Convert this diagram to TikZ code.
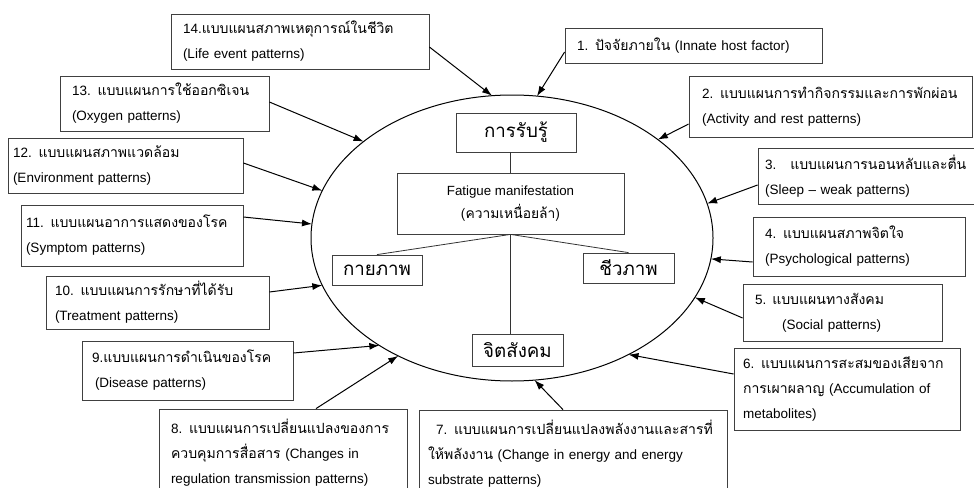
\documentclass[tikz,border=0pt]{standalone}
\usepackage{fontspec}
\setmainfont{Liberation Sans}
\newfontfamily\thaifont[Script=Thai,Scale=1.04]{Loma}
\usetikzlibrary{shapes.geometric,arrows.meta}

\begin{document}
\begin{tikzpicture}[x=1pt,y=-1pt]
        \tikzstyle{every node}=[font=\fontsize{13.5}{25}\selectfont]
        \tikzstyle{outbox}=[draw=black!75, line width=0.8pt, align=left, inner xsep=12pt, inner ysep=0pt]
        \tikzstyle{inbox}=[draw=black!75, line width=0.8pt, align=center, inner sep=0pt, font=\thaifont\fontsize{18}{21}\selectfont]
        \tikzstyle{arr}=[-{Latex[length=10pt,width=7pt]}, line width=1pt]
        \clip (0,0) rectangle (974,487);

        \node[draw, ellipse, line width=1pt, minimum width=402pt, minimum height=286pt, inner sep=0pt, outer sep=0pt] (ell) at (512,238) {};

        \node[inbox, minimum width=120pt, minimum height=39pt] (per) at (516,132.5) {การรับรู้};
        \node[inbox, minimum width=227pt, minimum height=61pt, font=\fontsize{13.3}{23}\selectfont] (fat) at (510.5,203.5) {Fatigue manifestation\\{\thaifont(ความเหนื่อยล้า)}};
        \node[inbox, minimum width=90pt, minimum height=30pt] (phy) at (377,270) {กายภาพ};
        \node[inbox, minimum width=91pt, minimum height=30pt] (bio) at (628.5,268) {ชีวภาพ};
        \node[inbox, minimum width=91pt, minimum height=32pt] (psy) at (517.5,350) {จิตสังคม};

        \path[-, black!80, line width=0.8pt] (fat.north) edge (fat.north |- per.south)
                                  (fat.south) edge (phy.north)
                                              edge (bio.north)
                                              edge (fat.south |- psy.north);

        \node[outbox, minimum width=258pt, minimum height=55pt, text width=234pt] (b14) at (300,41.5) {14.{\thaifont แบบแผนสภาพเหตุการณ์ในชีวิต}\\(Life event patterns)};
        \node[outbox, minimum width=209pt, minimum height=55pt, text width=185pt] (b13) at (164.5,103.5) {13. {\thaifont แบบแผนการใช้ออกซิเจน}\\(Oxygen patterns)};
        \node[outbox, minimum width=235pt, minimum height=55pt, inner xsep=5pt, text width=225pt] (b12) at (125.5,165.5) {12. {\thaifont แบบแผนสภาพแวดล้อม}\\(Environment patterns)};
        \node[outbox, minimum width=222pt, minimum height=61pt, inner xsep=5pt, text width=212pt] (b11) at (132,235.5) {11. {\thaifont แบบแผนอาการแสดงของโรค}\\(Symptom patterns)};
        \node[outbox, minimum width=223pt, minimum height=53pt, inner xsep=9pt, text width=205pt] (b10) at (157.5,302.5) {10. {\thaifont แบบแผนการรักษาที่ได้รับ}\\(Treatment patterns)};
        \node[outbox, minimum width=211pt, minimum height=59pt, inner xsep=10pt, text width=191pt] (b9) at (187.5,370.5) {9.{\thaifont แบบแผนการดำเนินของโรค}\\\hspace*{3pt}(Disease patterns)};
        \node[outbox, minimum width=248pt, minimum height=88pt, text width=224pt] (b8) at (283,453) {8. {\thaifont แบบแผนการเปลี่ยนแปลงของการ}\\{\thaifont ควบคุมการสื่อสาร} (Changes in\\regulation transmission patterns)};
        \node[outbox, minimum width=308pt, minimum height=87pt, inner xsep=9pt, text width=290pt] (b7) at (573,453.5) {\hspace*{8pt}7. {\thaifont แบบแผนการเปลี่ยนแปลงพลังงานและสารที่}\\{\thaifont ให้พลังงาน} (Change in energy and energy\\substrate patterns)};
        \node[outbox, minimum width=226pt, minimum height=82pt, inner xsep=9pt, text width=208pt] (b6) at (847,389) {6. {\thaifont แบบแผนการสะสมของเสียจาก}\\{\thaifont การเผาผลาญ} (Accumulation of\\metabolites)};
        \node[outbox, minimum width=199pt, minimum height=57pt, text width=175pt] (b5) at (842.5,312.5) {5.\hspace*{6pt}{\thaifont แบบแผนทางสังคม}\\\hspace*{27pt}(Social patterns)};
        \node[outbox, minimum width=212pt, minimum height=59pt, text width=188pt] (b4) at (859,246.5) {4. {\thaifont แบบแผนสภาพจิตใจ}\\(Psychological patterns)};
        \node[outbox, minimum width=242pt, minimum height=56pt, inner xsep=7pt, text width=228pt] (b3) at (879,176) {3.\hspace*{14pt}{\thaifont แบบแผนการนอนหลับและตื่น}\\(Sleep -- weak patterns)};
        \node[outbox, minimum width=283pt, minimum height=61pt, inner xsep=13pt, text width=257pt] (b2) at (830.5,106.5) {2. {\thaifont แบบแผนการทำกิจกรรมและการพักผ่อน}\\(Activity and rest patterns)};
        \node[outbox, minimum width=257pt, minimum height=35pt, text width=233pt] (b1) at (693.5,45.5) {1. {\thaifont ปัจจัยภายใน} (Innate host factor)};

        \path[arr] ([yshift=-5.5pt]b14.east) edge (ell.98.9)
                   ([yshift=1.5pt]b13.east) edge (ell.147.5)
                   ([yshift=2.5pt]b12.east) edge (ell.166.7)
                   ([yshift=18.5pt]b11.east) edge (ell.176.3)
                   ([yshift=10.5pt]b10.east) edge (ell.-166.7)
                   ([yshift=17.5pt]b9.east) edge (ell.-141.2)
                   ([xshift=33pt]b8.north) edge (ell.-134.5)
                   ([xshift=-10pt]b7.north) edge (ell.-81.7)
                   ([yshift=15pt]b6.west) edge (ell.-45.5)
                   ([yshift=-5.5pt]b5.west) edge (ell.-18.7)
                   ([yshift=-15.5pt]b4.west) edge (ell.-6.8)
                   ([yshift=-9pt]b3.west) edge (ell.10)
                   ([yshift=-17.5pt]b2.west) edge (ell.34.9)
                   ([yshift=-6.5pt]b1.west) edge (ell.80.2);
\end{tikzpicture}
\end{document}
